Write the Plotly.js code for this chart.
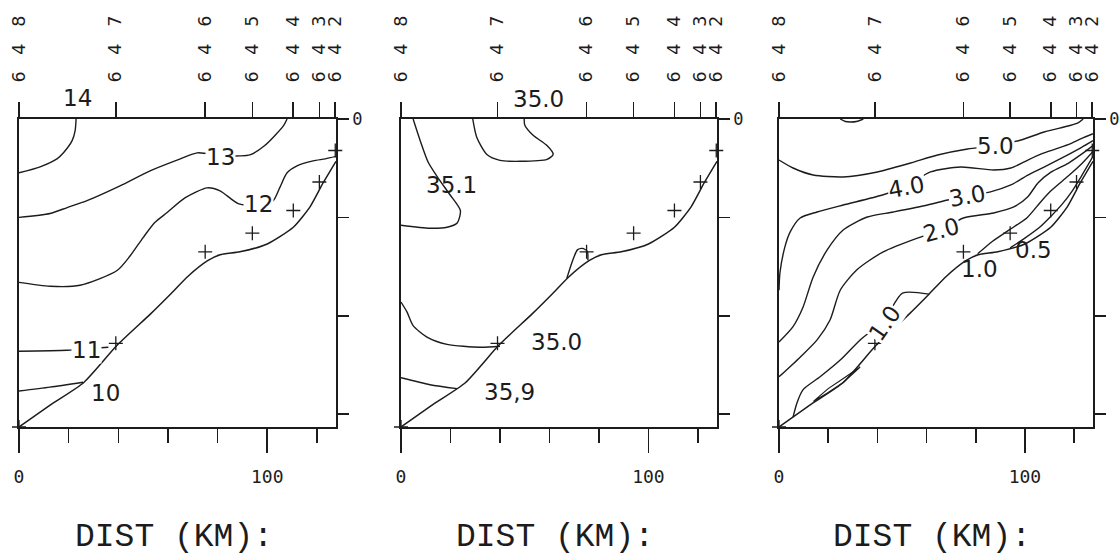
<!DOCTYPE html>
<html><head><meta charset="utf-8">
<script src="https://cdn.plot.ly/plotly-3.0.1.min.js"></script>
<style>html,body{margin:0;padding:0;background:#fff}</style>
</head><body><div id="chart" style="width:1120px;height:558px"></div>
<script>
// ---------- stations / axes ----------
const stationNames = ['648','647','646','645','644','643','642'];
const stationKm = [0, 39, 75, 94, 110.5, 121, 127.4];
const sampleDepth = [313, 228, 135, 116, 93, 64, 32];
const distTicks = [0, 100];
const distTickText = ['0', '100'];
const distMinorTicks = [20, 40, 60, 80, 120];
const depthTicks = [0, 100, 200, 300];
const depthTickText = ['0', '', '', ''];
const axisTitle = 'DIST (KM):';

// ---------- bottom topography ----------
const bottomKm = [0, 13, 26, 39.5, 53, 61, 68, 76, 81, 89, 100, 110.5, 117.3, 122.5, 127.7];
const bottomDep = [313, 290, 268, 230, 198, 178, 160, 144, 138, 135, 127, 110, 89, 65, 43];

// ---------- panel 1: temperature ----------
const t14Km = [23, 22.6, 21.4, 18, 15.3, 8.5, 0];
const t14Dep = [0, 12, 22, 34, 40.5, 48.6, 54.7];
const t13Km = [0, 12.5, 19.4, 27.4, 40.7, 52.8, 65, 71.8, 81, 89, 93, 99, 106.5, 108];
const t13Dep = [100, 96, 90, 83, 68, 52.7, 40.5, 34.4, 37, 37.5, 36.5, 27, 7, 0];
const t12Km = [0, 12.5, 24.6, 39.5, 44.8, 50, 54.8, 59.7, 67, 75.8, 81, 88.3, 96, 102.4, 105, 108, 112, 118.5, 123.4, 127.7];
const t12Dep = [166, 170, 169, 154, 139, 120.5, 105, 95, 80, 70, 73, 86, 88, 83, 70, 54.7, 47.6, 42.5, 40.5, 38];
const t11Km = [0, 19.4, 30, 36];
const t11Dep = [236, 235, 233, 232];
const t10Km = [0, 12.5, 25.8];
const t10Dep = [276.5, 272.5, 267.5];
const tempLabels = ['14', '13', '12', '11', '10'];
const tempLabelKm = [23.4, 81, 96.4, 27, 35];
const tempLabelDep = [-21, 39, 86, 235, 278];

// ---------- panel 2: salinity ----------
const s351Km = [4.9, 7.7, 11, 15, 19.8, 24, 22.7, 18.6, 11.7, 0];
const s351Dep = [0, 21.5, 44, 60, 77, 93, 105.7, 110, 111, 108];
const s350aKm = [29, 30.6, 34.7, 40, 48, 59, 61.5, 59, 53.4, 50, 49.8];
const s350aDep = [0, 18.5, 36, 42, 43, 41, 36, 27, 16.5, 6, 0];
const s350bKm = [0, 2.4, 4.9, 10.5, 18.6, 32, 40];
const s350bDep = [186, 196, 210, 221.6, 229, 232, 231];
const s349Km = [0, 11.7, 22.7];
const s349Dep = [263, 270, 274];
const s350cKm = [67, 69.2, 71.3, 73.3, 75.3, 75.5];
const s350cDep = [162, 145, 133, 131.5, 134.5, 143.5];
const salLabels = ['35.0', '35.1', '35.0', '35,9'];
const salLabelKm = [55.5, 20.6, 62.8, 44];
const salLabelDep = [-20.5, 67, 227, 277];

// ---------- panel 3: oxygen ----------
const o50Km = [0, 5.7, 13.9, 26.1, 40, 53.5, 64.5, 76.7, 88, 98.4, 107.8, 117.6, 121.6, 123.7];
const o50Dep = [41.7, 49.8, 56.9, 58.9, 53.8, 44.7, 36.6, 30.5, 27, 21.3, 13.2, 7.1, 4, 0];
const o40Km = [0, 0.4, 2.4, 4.5, 8.6, 15.5, 26.1, 42.4, 52, 61.6, 73.9, 87.3, 94.3, 101.2, 107.8, 117.6, 122.9, 127.7];
const o40Dep = [174, 156, 130, 115, 100.6, 94.5, 87.4, 77, 68, 53.8, 48.8, 51.8, 49.8, 41.7, 34.5, 26, 20, 15];
const o30Km = [0, 5.7, 9.8, 13.9, 19.6, 26.1, 35.9, 46.5, 60.4, 68.6, 76.7, 86, 94.3, 101.2, 107.8, 114.7, 122.9, 127.7];
const o30Dep = [226.6, 211, 191, 160.5, 133, 112.8, 99.6, 94.5, 87.4, 82.3, 78, 74, 67, 57, 48.8, 40, 29, 22];
const o20Km = [0, 8.6, 15.5, 20.8, 24.9, 31.8, 42.4, 56.3, 66, 75, 87.3, 95.5, 101.2, 105.3, 110.6, 117.6, 122.9, 127.7];
const o20Dep = [262, 242, 224.5, 204, 174, 153, 135, 121, 113, 100.6, 95.5, 89.4, 79, 65, 54, 45, 36, 27];
const o10aKm = [5.7, 7.3, 9.8, 16.7, 24.9, 33, 42.9, 50.2, 61];
const o10aDep = [303, 288.5, 275, 262, 245, 224.5, 204, 177, 178];
const o10bKm = [80.8, 87, 93.5, 101, 106.5, 110.6, 117.6, 122.9, 127.7];
const o10bDep = [137, 124, 113, 100, 84, 73, 58, 46, 33];
const o05Km = [94, 100, 106, 110.5, 115, 119, 123, 127.7];
const o05Dep = [131, 121, 110, 99, 87, 74, 58, 38];
const oLensKm = [14, 20, 26, 33, 26, 20, 14];
const oLensDep = [287, 274, 264, 252, 268, 278, 287];
const oBlipKm = [24.9, 27, 29, 31.5, 34.3];
const oBlipDep = [0, 2.5, 3, 2.5, 0];
const oxyLabels = ['5.0', '4.0', '3.0', '2.0', '1.0', '1.0', '0.5'];
const oxyLabelKm = [88.2, 52, 76.7, 66, 43, 81.6, 103.7];
const oxyLabelDep = [27, 69, 78, 113, 207, 152, 133];
const oxyLabelAngle = [0, -10, -10, -15, -55, 0, 0];

// ---------- build ----------
const INK = '#1c1c1c';
const XR = [0, 127.7];
const YR = [313, 0];
const YDOM = [1 - 427 / 558, 1 - 119 / 558];
const XDOMS = [[19 / 1120, 336 / 1120], [401 / 1120, 717 / 1120], [779 / 1120, 1093 / 1120]];
const MONO = 'DejaVu Sans Mono, monospace';
const LMONO = 'Liberation Mono, DejaVu Sans Mono, monospace';
const HAND = 'DejaVu Sans, sans-serif';

const panels = [
  {lines: [[t14Km, t14Dep], [t13Km, t13Dep], [t12Km, t12Dep], [t11Km, t11Dep], [t10Km, t10Dep]],
   labels: tempLabels, lkm: tempLabelKm, ldep: tempLabelDep, lang: null,
   masked: [false, true, true, true, false]},
  {lines: [[s351Km, s351Dep], [s350aKm, s350aDep], [s350bKm, s350bDep], [s349Km, s349Dep], [s350cKm, s350cDep]],
   labels: salLabels, lkm: salLabelKm, ldep: salLabelDep, lang: null,
   masked: [false, false, false, false]},
  {lines: [[o50Km, o50Dep], [o40Km, o40Dep], [o30Km, o30Dep], [o20Km, o20Dep], [o10aKm, o10aDep], [o10bKm, o10bDep], [o05Km, o05Dep], [oBlipKm, oBlipDep]],
   straight: [[oLensKm, oLensDep]],
   labels: oxyLabels, lkm: oxyLabelKm, ldep: oxyLabelDep, lang: oxyLabelAngle,
   masked: [true, true, true, true, true, false, false]}
];

const traces = [];
const layout = {
  width: 1120, height: 558, margin: {l: 0, r: 0, t: 0, b: 0},
  paper_bgcolor: '#fff', plot_bgcolor: '#fff', showlegend: false,
  annotations: []
};

panels.forEach((p, i) => {
  const n = i + 1;
  const xa = 'x' + (n === 1 ? '' : n), ya = 'y' + (n === 1 ? '' : n);
  const topN = n + 3;
  const xTop = 'x' + topN;
  traces.push({x: bottomKm, y: bottomDep, xaxis: xa, yaxis: ya, mode: 'lines', hoverinfo: 'skip',
    line: {color: INK, width: 1.5, shape: 'spline', smoothing: 0.6}});
  p.lines.forEach(l => traces.push({x: l[0], y: l[1], xaxis: xa, yaxis: ya, mode: 'lines', hoverinfo: 'skip',
    line: {color: INK, width: 1.4, shape: 'spline', smoothing: 0.7}}));
  (p.straight || []).forEach(l => traces.push({x: l[0], y: l[1], xaxis: xa, yaxis: ya, mode: 'lines', hoverinfo: 'skip',
    line: {color: INK, width: 1.2}}));
  traces.push({x: stationKm, y: sampleDepth, xaxis: xTop, yaxis: ya, mode: 'markers', cliponaxis: false, hoverinfo: 'skip',
    marker: {symbol: 'cross-thin', size: 10, line: {color: INK, width: 1.3}}});

  layout['xaxis' + (n === 1 ? '' : n)] = {
    domain: XDOMS[i], range: XR, anchor: ya, showgrid: false, zeroline: false,
    showline: true, mirror: true, linecolor: INK, linewidth: 1.8,
    ticks: 'outside', tickmode: 'array', tickvals: distTicks, ticktext: distTickText,
    ticklen: 24, tickwidth: 1.6, tickcolor: INK, ticklabelstandoff: 9,
    tickfont: {family: MONO, size: 18, color: INK},
    minor: {tickmode: 'array', tickvals: distMinorTicks, ticks: 'outside', ticklen: 14, tickwidth: 1.6, tickcolor: INK, showgrid: false}
  };
  layout['xaxis' + topN] = {
    overlaying: xa, side: 'top', anchor: ya, range: XR, showgrid: false, zeroline: false, showline: false,
    ticks: 'outside', tickmode: 'array', tickvals: stationKm,
    ticktext: stationNames.map(s => s.split('').join('\u00A0\u00A0\u00A0')),
    ticklen: 16, tickwidth: 1.6, tickcolor: INK, tickangle: -90, ticklabelstandoff: 16,
    tickfont: {family: HAND, size: 17.5, color: INK}
  };
  layout['yaxis' + (n === 1 ? '' : n)] = {
    domain: YDOM, range: YR, anchor: xa, side: 'right', showgrid: false, zeroline: false,
    showline: true, mirror: true, linecolor: INK, linewidth: 1.8,
    ticks: 'outside', tickmode: 'array', tickvals: depthTicks, ticktext: depthTickText,
    ticklen: 11, tickwidth: 1.6, tickcolor: INK,
    tickfont: {family: MONO, size: 17, color: INK}
  };
  // contour labels: x on the distance axis, y on the depth axis' domain so labels above the surface still show
  p.labels.forEach((t, j) => layout.annotations.push({
    xref: xa, yref: ya + ' domain', x: p.lkm[j], y: 1 - p.ldep[j] / YR[0],
    xanchor: 'center', yanchor: 'middle', text: t, showarrow: false,
    textangle: p.lang ? p.lang[j] : 0,
    bgcolor: p.masked[j] ? '#fff' : 'rgba(0,0,0,0)', borderpad: 0,
    font: {family: HAND, size: 23, color: INK}
  }));
  layout.annotations.push({
    xref: xa + ' domain', yref: 'paper', x: 0.5, y: 1 - 537 / 558, xshift: -4,
    xanchor: 'center', yanchor: 'middle',
    text: axisTitle, showarrow: false,
    font: {family: LMONO, size: 33, color: INK}
  });
});

Plotly.newPlot('chart', traces, layout, {staticPlot: true, displayModeBar: false});
</script></body></html>
